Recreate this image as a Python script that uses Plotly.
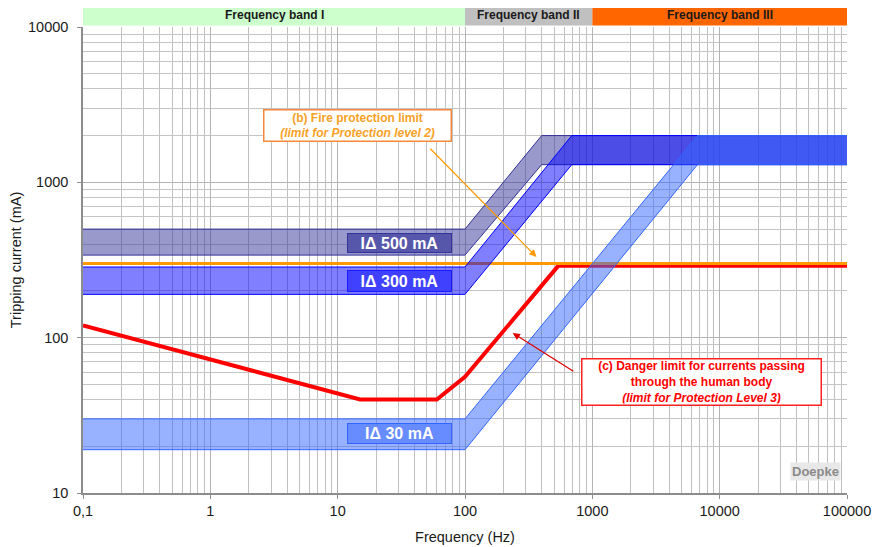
import math
import plotly.graph_objects as go

# ---------------- data ----------------
red_freq = [0.1, 15, 60, 100, 540, 100000]
red_ma = [120, 40, 40, 56, 290, 290]

orange_freq = [0.1, 100000]
orange_ma = [300, 300]

band500_freq = [0.1, 100, 400, 100000]
band500_hi = [500, 500, 2000, 2000]
band500_lo = [340, 340, 1300, 1300]

band300_freq = [0.1, 100, 690, 100000]
band300_hi = [285, 285, 2000, 2000]
band300_lo = [190, 190, 1300, 1300]

band30_freq = [0.1, 100, 6700, 100000]
band30_hi = [30, 30, 2000, 2000]
band30_lo = [19, 19, 1300, 1300]

freq_band_names = ["Frequency band I", "Frequency band II", "Frequency band III"]
freq_band_start = [0.1, 100, 1000]
freq_band_end = [100, 1000, 100000]
freq_band_colors = ["#ccffcc", "#c0c0c0", "#ff6600"]

x_tickvals = [0.1, 1, 10, 100, 1000, 10000, 100000]
x_ticktext = ["0,1", "1", "10", "100", "1000", "10000", "100000"]
y_tickvals = [10, 100, 1000, 10000]
y_ticktext = ["10", "100", "1000", "10000"]

FONT = "Liberation Sans, Arial, sans-serif"
L = math.log10

fig = go.Figure()

# limit lines (drawn beneath the translucent bands)
fig.add_trace(go.Scatter(x=red_freq, y=red_ma, mode="lines",
                         line=dict(color="#ff0000", width=4), hoverinfo="skip"))
fig.add_trace(go.Scatter(x=orange_freq, y=orange_ma, mode="lines",
                         line=dict(color="#ff9900", width=3), hoverinfo="skip"))

# tripping bands
bands = [
    (band500_freq, band500_lo, band500_hi, "#333399", "rgba(51,51,153,0.5)"),
    (band300_freq, band300_lo, band300_hi, "#0000ff", "rgba(0,0,255,0.5)"),
    (band30_freq, band30_lo, band30_hi, "#3366ff", "rgba(51,102,255,0.5)"),
]
for fr, lo, hi, edge, fillc in bands:
    fig.add_trace(go.Scatter(x=fr, y=lo, mode="lines",
                             line=dict(color=edge, width=1), hoverinfo="skip"))
    fig.add_trace(go.Scatter(x=fr, y=hi, mode="lines", fill="tonexty",
                             fillcolor=fillc, line=dict(color=edge, width=1),
                             hoverinfo="skip"))

# frequency band header
x_lo, x_hi = L(0.1), L(100000)
for name, f0, f1, col in zip(freq_band_names, freq_band_start, freq_band_end, freq_band_colors):
    p0 = (L(f0) - x_lo) / (x_hi - x_lo)
    p1 = (L(f1) - x_lo) / (x_hi - x_lo)
    fig.add_shape(type="rect", xref="paper", yref="paper", x0=p0, x1=p1,
                  y0=1.003, y1=1.047, fillcolor=col, line=dict(width=0), layer="above")
    fig.add_annotation(xref="paper", yref="paper", x=(p0 + p1) / 2, y=1.025,
                       xanchor="center", yanchor="middle",
                       text="<b>" + name + "</b>", showarrow=False,
                       font=dict(family=FONT, size=12, color="#1a1a1a"))

# band labels
labels = [
    ("IΔ 500 mA", 30.7, 409, "#5656aa", "#333399", 16),
    ("IΔ 300 mA", 30.7, 230, "#4040ff", "#1a1aff", 18),
    ("IΔ 30 mA", 30.7, 24.2, "#668cff", "#3366ff", 17),
]
for txt, f, ma, bg, bc, h in labels:
    fig.add_annotation(x=L(f), y=L(ma), text="<b>" + txt + "</b>", showarrow=False,
                       width=101, height=h, bgcolor=bg, bordercolor=bc, borderwidth=1,
                       borderpad=1, font=dict(family=FONT, size=16, color="#ffffff"))

# fire protection annotation
fig.add_annotation(x=L(14.4), y=L(2334),
                   text="<b>(b) Fire protection limit</b><br><b><i>(limit for Protection level 2)</i></b>",
                   showarrow=False, width=184, height=28, bgcolor="#ffffff",
                   bordercolor="#f5883a", borderwidth=1.5, borderpad=1,
                   font=dict(family=FONT, size=12, color="#f7a126"))
fig.add_annotation(x=L(364), y=L(331), ax=L(52), ay=L(1683), axref="x", ayref="y",
                   text="", showarrow=True, arrowhead=2, arrowsize=1.2, arrowwidth=1.2,
                   arrowcolor="#ff9900")

# danger annotation
fig.add_annotation(x=L(7211), y=L(51.6),
                   text="<b>(c) Danger limit for currents passing</b><br><b>through the human body</b><br><b><i>(limit for Protection Level 3)</i></b>",
                   showarrow=False, width=236, height=43, bgcolor="#ffffff",
                   bordercolor="#ff2020", borderwidth=1.5, borderpad=1,
                   font=dict(family=FONT, size=12, color="#ff0000"))
fig.add_annotation(x=L(237), y=L(107), ax=L(729), ay=L(60), axref="x", ayref="y",
                   text="", showarrow=True, arrowhead=2, arrowsize=1.2, arrowwidth=1.2,
                   arrowcolor="#e00000")

# watermark
fig.add_annotation(xref="paper", yref="paper", x=0.992, y=0.025, xanchor="right",
                   text="<b>Doepke</b>", showarrow=False, bgcolor="#e8e8e8",
                   font=dict(family=FONT, size=13, color="#8a8a8a"))

minor_x = [m * 10 ** e for e in range(-1, 5) for m in range(2, 10)]
minor_y = [m * 10 ** e for e in range(1, 4) for m in range(2, 10)]

fig.update_xaxes(type="log", range=[L(0.1), L(100000)], tickvals=x_tickvals,
                 ticktext=x_ticktext, showgrid=True, gridcolor="#b4b4b4", gridwidth=1,
                 minor=dict(tickvals=minor_x, showgrid=True, gridcolor="#c0c0c0",
                            gridwidth=1, ticks=""),
                 showline=True, linecolor="#8c8c8c", linewidth=1.5,
                 ticks="outside", ticklen=4, tickcolor="#8c8c8c",
                 tickfont=dict(family=FONT, size=14.5, color="#1a1a1a"),
                 title=dict(text="Frequency (Hz)", standoff=14,
                            font=dict(family=FONT, size=14.5, color="#1a1a1a")),
                 zeroline=False, automargin=False)
fig.update_yaxes(type="log", range=[L(10), L(10000)], tickvals=y_tickvals,
                 ticktext=y_ticktext, showgrid=True, gridcolor="#b4b4b4", gridwidth=1,
                 minor=dict(tickvals=minor_y, showgrid=True, gridcolor="#c4c4c4",
                            gridwidth=1, ticks=""),
                 showline=True, linecolor="#8c8c8c", linewidth=1.5,
                 ticks="outside", ticklen=4, tickcolor="#8c8c8c",
                 tickfont=dict(family=FONT, size=14.5, color="#1a1a1a"),
                 ticklabelstandoff=6,
                 title=dict(text="Tripping current (mA)", standoff=16,
                            font=dict(family=FONT, size=14.5, color="#1a1a1a")),
                 zeroline=False, automargin=False)

# the page body adds an 8 px offset, so the figure is sized to compensate
fig.update_layout(width=872, height=539,
                  margin=dict(l=75, r=33, t=19, b=54, autoexpand=False),
                  paper_bgcolor="#ffffff", plot_bgcolor="#ffffff", showlegend=False,
                  font=dict(family=FONT))

fig.write_html("out.html")
